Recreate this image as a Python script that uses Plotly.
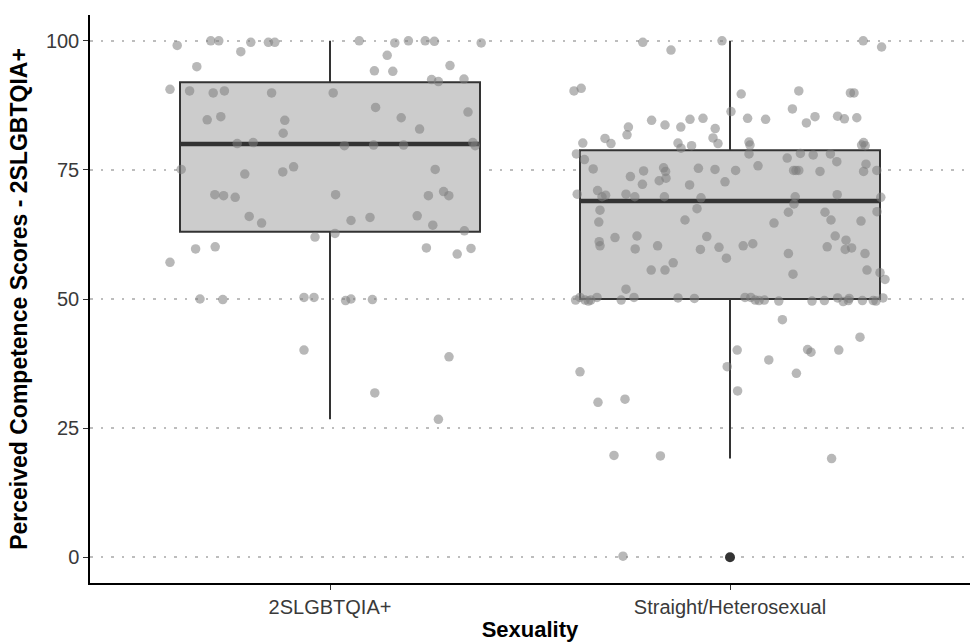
import plotly.graph_objects as go

categories = ["2SLGBTQIA+", "Straight/Heterosexual"]

# Box statistics
q1 = [63.0, 50.0]
median = [80.0, 69.0]
q3 = [92.0, 78.8]
lower_whisker = [26.7, 19.1]
upper_whisker = [100.0, 100.0]
outliers_group2 = [0.0]

# Jittered raw scores (value, horizontal jitter offset)
g1_values = [99.1, 100, 100, 97.9, 99.7, 99.7, 99.7, 95.0, 90.6, 90.3, 89.9, 90.3, 89.9,
             84.7, 85.3, 84.6, 82.1, 80.1, 80.3, 75.1, 74.2, 74.6, 75.6, 70.2, 70.0, 69.7,
             66.0, 100, 99.6, 100, 100, 99.9, 99.6, 97.2, 94.2, 94.1, 95.2, 92.5, 92.1,
             92.6, 89.9, 87.1, 85.1, 82.9, 86.2, 79.7, 79.8, 79.8, 80.3, 79.7, 75.1, 70.2,
             70.0, 70.8, 70.0, 65.8, 66.1, 64.7, 62.0, 59.7, 60.1, 57.1, 50.0, 49.9, 50.3,
             50.3, 40.1, 65.2, 64.3, 63.2, 62.7, 59.9, 58.7, 59.8, 49.7, 50.0, 49.9, 38.8,
             31.8, 26.7]
g1_jitter = [-0.382, -0.298, -0.278, -0.223, -0.198, -0.154, -0.138, -0.333, -0.40, -0.351,
             -0.292, -0.264, -0.146, -0.307, -0.273, -0.113, -0.117, -0.232, -0.192, -0.372,
             -0.213, -0.118, -0.091, -0.288, -0.266, -0.237, -0.202, 0.073, 0.162, 0.196,
             0.238, 0.261, 0.378, 0.143, 0.111, 0.157, 0.30, 0.254, 0.271, 0.335, 0.008,
             0.114, 0.178, 0.224, 0.345, 0.036, 0.109, 0.184, 0.357, 0.363, 0.263, 0.014,
             0.246, 0.284, 0.297, 0.10, 0.218, -0.171, -0.0375, -0.336, -0.287, -0.40,
             -0.325, -0.268, -0.065, -0.04, -0.065, 0.0525, 0.257, 0.336, 0.0125, 0.241,
             0.318, 0.3525, 0.039, 0.0525, 0.106, 0.2975, 0.112, 0.271]

g2_values = [99.7, 98.2, 100, 90.3, 90.8, 86.3, 84.6, 83.7, 83.3, 84.8, 85.0, 83.0, 83.3,
             81.8, 80.2, 81.1, 80.1, 80.2, 79.2, 79.7, 81.2, 80.1, 78.1, 77.0, 75.2, 73.7,
             74.8, 72.2, 72.9, 75.4, 74.7, 73.4, 72.1, 75.3, 75.1, 72.7, 74.9, 70.3, 71.0,
             69.8, 70.1, 70.3, 69.8, 69.8, 69.6, 67.2, 67.5, 100, 98.8, 89.7, 90.3, 89.9,
             89.9, 86.8, 85.0, 84.8, 84.1, 85.3, 85.4, 84.9, 85.1, 80.4, 79.8, 80.3, 79.7,
             79.8, 78.1, 77.3, 78.2, 77.9, 78.1, 76.6, 75.8, 74.9, 74.9, 74.9, 74.7, 76.1,
             74.7, 74.9, 69.8, 68.4, 70.2, 69.7, 66.8, 66.8, 66.9, 64.7, 65.3, 65.1, 60.3,
             60.7, 58.8, 54.8, 62.2, 60.1, 61.4, 59.6, 59.9, 58.8, 55.6, 55.1, 53.8, 50.3,
             50.3, 49.8, 49.7, 49.8, 49.6, 49.6, 49.7, 50.2, 49.5, 50.1, 49.7, 49.7, 49.7,
             49.6, 50.2, 46.0, 42.6, 40.1, 38.2, 40.2, 39.7, 40.1, 35.6, 32.2, 19.1, 64.9,
             65.3, 61.1, 60.3, 61.9, 62.2, 59.7, 60.3, 62.1, 59.6, 60.0, 57.9, 55.6, 55.6,
             57.0, 51.9, 49.8, 50.3, 49.8, 49.6, 49.8, 50.3, 49.8, 50.3, 50.2, 50.1, 35.9,
             36.9, 30.6, 30.0, 19.7, 19.6, 0.2]
g2_jitter = [-0.218, -0.1475, -0.02, -0.39, -0.372, 0.0025, -0.196, -0.1625, -0.123, -0.10,
             -0.0675, -0.037, -0.254, -0.2575, -0.368, -0.3125, -0.2975, -0.13, -0.1225,
             -0.096, -0.0425, -0.03, -0.384, -0.364, -0.342, -0.249, -0.216, -0.219, -0.177,
             -0.166, -0.161, -0.16, -0.101, -0.079, -0.0375, -0.0125, 0.014, -0.382, -0.331,
             -0.32, -0.311, -0.26, -0.238, -0.164, -0.0725, -0.325, -0.0825, 0.333, 0.379,
             0.028, 0.172, 0.301, 0.31, 0.156, 0.044, 0.089, 0.191, 0.2125, 0.269, 0.286,
             0.317, 0.0475, 0.05, 0.334, 0.338, 0.329, 0.0475, 0.143, 0.176, 0.208, 0.251,
             0.267, 0.07, 0.159, 0.172, 0.165, 0.225, 0.34, 0.334, 0.367, 0.163, 0.16, 0.268,
             0.377, 0.146, 0.2375, 0.3675, 0.11, 0.2525, 0.3275, 0.033, 0.057, 0.146, 0.1575,
             0.263, 0.243, 0.29, 0.288, 0.304, 0.3375, 0.3425, 0.375, 0.3875, 0.0375, 0.052,
             0.063, 0.0725, 0.086, 0.122, 0.205, 0.236, 0.269, 0.283, 0.298, 0.296, 0.331,
             0.358, 0.365, 0.3825, 0.131, 0.325, 0.018, 0.097, 0.194, 0.2025, 0.272, 0.166,
             0.019, 0.254, -0.328, -0.1125, -0.327, -0.325, -0.2875, -0.2325, -0.237, -0.181,
             -0.058, -0.074, -0.0275, -0.009, -0.197, -0.1625, -0.142, -0.26, -0.386, -0.375,
             -0.3625, -0.354, -0.348, -0.3325, -0.272, -0.24, -0.13, -0.089, -0.375, -0.007,
             -0.2625, -0.33, -0.29, -0.174, -0.2675]

y_ticks = [0, 25, 50, 75, 100]

BOX_WIDTH = 0.75
positions = [1, 2]

fig = go.Figure()

for i, pos in enumerate(positions):
    fig.add_trace(go.Box(
        x=[pos], q1=[q1[i]], median=[median[i]], q3=[q3[i]],
        lowerfence=[lower_whisker[i]], upperfence=[upper_whisker[i]],
        width=BOX_WIDTH, whiskerwidth=0, boxpoints=False,
        fillcolor="#cccccc", line=dict(color="#333333", width=2),
        showlegend=False, hoverinfo="skip",
    ))
    # thicker median bar like ggplot
    fig.add_trace(go.Scatter(
        x=[pos - BOX_WIDTH / 2, pos + BOX_WIDTH / 2], y=[median[i], median[i]],
        mode="lines", line=dict(color="#333333", width=4.5),
        showlegend=False, hoverinfo="skip",
    ))

# outlier of the second box
fig.add_trace(go.Scatter(
    x=[positions[1]] * len(outliers_group2), y=outliers_group2, mode="markers",
    marker=dict(color="#333333", size=10), showlegend=False, hoverinfo="skip",
))

# jittered points
for pos, vals, jit in [(positions[0], g1_values, g1_jitter), (positions[1], g2_values, g2_jitter)]:
    fig.add_trace(go.Scatter(
        x=[pos + j for j in jit], y=vals, mode="markers",
        marker=dict(color="rgba(125,125,125,0.55)", size=9.5, line=dict(width=0)),
        showlegend=False, hoverinfo="skip",
    ))

fig.update_layout(
    width=973, height=642,
    margin=dict(l=90, r=3, t=15, b=59),
    paper_bgcolor="white", plot_bgcolor="white",
    font=dict(family="Liberation Sans, Arial, sans-serif", color="#333333"),
)
fig.update_xaxes(
    range=[0.4, 2.6], tickvals=positions, ticktext=categories,
    showline=True, linecolor="black", linewidth=1.5,
    ticks="outside", ticklen=5, tickcolor="#333333", tickwidth=1.2,
    showgrid=False, zeroline=False, automargin=False,
    tickfont=dict(size=20, color="#3a3a3a"),
    title=dict(text="<b>Sexuality</b>", font=dict(size=22, color="black"), standoff=6),
)
fig.update_yaxes(
    range=[-5, 105], tickvals=y_ticks,
    showline=True, linecolor="black", linewidth=1.5,
    ticks="outside", ticklen=5, tickcolor="#333333", tickwidth=1.2,
    showgrid=True, gridcolor="#bdbdbd", gridwidth=2.2, griddash="2.5px,8px",
    zeroline=False, automargin=False,
    tickfont=dict(size=20, color="#3a3a3a"),
    title=dict(text="<b>Perceived Competence Scores - 2SLGBTQIA+</b>",
               font=dict(size=23, color="black"), standoff=12),
)

fig.write_html("out.html", config={"displayModeBar": False},
               post_script="document.body.style.margin='0px';document.body.style.padding='0px';")
